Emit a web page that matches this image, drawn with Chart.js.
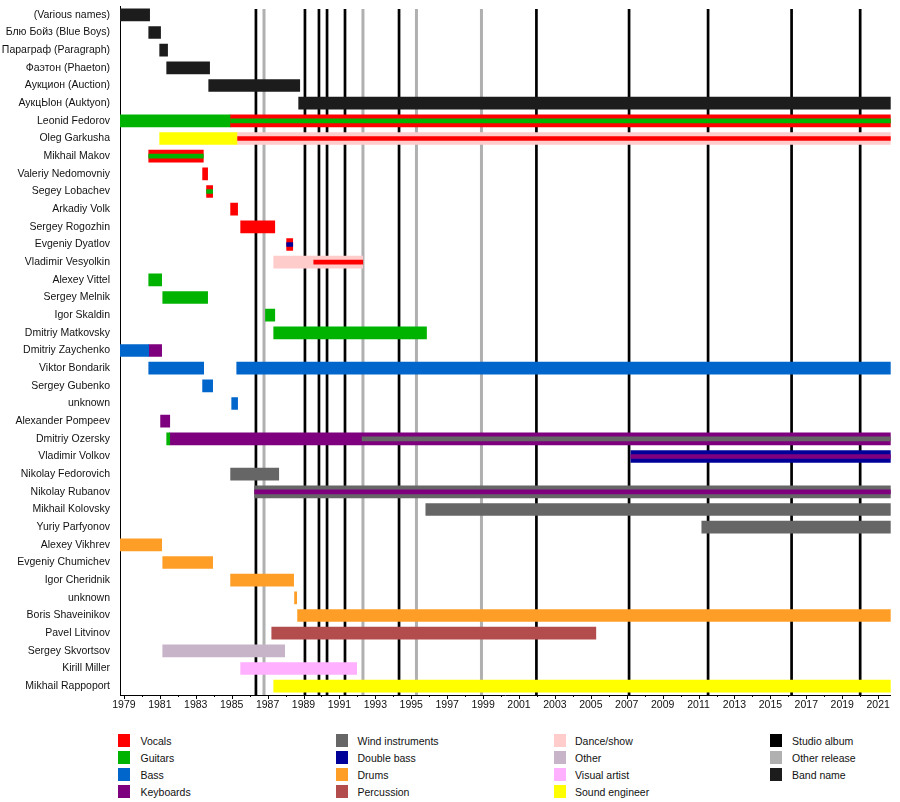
<!DOCTYPE html>
<html>
<head>
<meta charset="utf-8">
<script src="https://cdn.jsdelivr.net/npm/chart.js@4.4.1/dist/chart.umd.min.js"></script>
<style>
  html, body { margin: 0; padding: 0; background: #fff; }
  body { width: 900px; height: 802px; position: relative; overflow: hidden;
         font-family: "Liberation Sans", Arial, sans-serif; }
  #wrap { position: absolute; left: 0; top: 0; width: 900px; height: 716px; }
  .lg-sw { position: absolute; width: 12px; height: 13px; }
  .lg-tx { position: absolute; font-size: 10.5px; color: #111; line-height: 13px; white-space: nowrap; }
</style>
</head>
<body>
<div id="wrap"><canvas id="c" width="900" height="716"></canvas></div>
<div id="legend"></div>
<script>
// ---------- data ----------
const START = 1978.78;   // left edge of the timeline
const END = 2021.70;     // right edge of the timeline

const members = [
  "(Various names)", "Блю Бойз (Blue Boys)", "Параграф (Paragraph)", "Фаэтон (Phaeton)",
  "Аукцион (Auction)", "АукцЫон (Auktyon)", "Leonid Fedorov", "Oleg Garkusha",
  "Mikhail Makov", "Valeriy Nedomovniy", "Segey Lobachev", "Arkadiy Volk",
  "Sergey Rogozhin", "Evgeniy Dyatlov", "Vladimir Vesyolkin", "Alexey Vittel",
  "Sergey Melnik", "Igor Skaldin", "Dmitriy Matkovsky", "Dmitriy Zaychenko",
  "Viktor Bondarik", "Sergey Gubenko", "unknown", "Alexander Pompeev",
  "Dmitriy Ozersky", "Vladimir Volkov", "Nikolay Fedorovich", "Nikolay Rubanov",
  "Mikhail Kolovsky", "Yuriy Parfyonov", "Alexey Vikhrev", "Evgeniy Chumichev",
  "Igor Cheridnik", "unknown", "Boris Shaveinikov", "Pavel Litvinov",
  "Sergey Skvortsov", "Kirill Miller", "Mikhail Rappoport"
];

// segments: [row index in members, from, till]
const bandName = [[0, START, 1980.43], [1, 1980.38, 1981.04], [2, 1980.99, 1981.43],
                  [3, 1981.38, 1983.77], [4, 1983.72, 1988.79], [5, 1988.73, END]];
const vocals = [[6, 1984.94, END], [8, 1980.38, 1983.42], [9, 1983.38, 1983.66],
                [10, 1983.60, 1983.94], [11, 1984.94, 1985.33], [12, 1985.50, 1987.40],
                [13, 1988.06, 1988.40]];
const vocalsSecondary = [[7, 1985.33, END], [14, 1989.57, 1992.30]];
const guitars = [[6, START, 1984.94], [15, 1980.38, 1981.10], [16, 1981.16, 1983.66],
                 [17, 1986.88, 1987.40], [18, 1987.34, 1995.85], [24, 1981.38, 1981.55]];
const guitarsSecondary = [[6, 1984.94, END], [8, 1980.38, 1983.42], [10, 1983.60, 1983.94]];
const bass = [[19, START, 1980.38], [20, 1980.38, 1983.44], [20, 1985.28, END],
              [21, 1983.38, 1983.94], [22, 1985.00, 1985.33]];
const keyboards = [[19, 1980.38, 1981.10], [23, 1981.04, 1981.55], [24, 1981.55, END]];
const keyboardsSecondary = [[25, 2007.23, END], [27, 1986.28, END]];
const wind = [[26, 1984.94, 1987.62], [27, 1986.28, END], [28, 1995.81, END], [29, 2011.18, END]];
const windSecondary = [[24, 1992.26, END]];
const doubleBass = [[25, 2007.23, END]];
const doubleBassSecondary = [[13, 1988.06, 1988.40]];
const drums = [[30, START, 1981.10], [31, 1981.16, 1983.94], [32, 1984.94, 1988.45],
               [33, 1988.50, 1988.62], [34, 1988.67, END]];
const percussion = [[35, 1987.23, 2005.28]];
const danceShow = [[7, 1985.33, END], [14, 1987.34, 1992.30]];
const otherRole = [[36, 1981.16, 1987.95]];
const visualArtist = [[37, 1985.50, 1991.96]];
const soundEngineer = [[7, 1980.99, 1985.33], [38, 1987.34, END]];

const studioAlbums = [1986.35, 1989.08, 1989.86, 1990.31, 1991.31, 1994.32,
                      2001.97, 2007.13, 2011.53, 2016.18, 2020.00];
const otherReleases = [1986.80, 1992.31, 1995.29, 1998.91];

const tickYears = [];
for (let y = 1979; y <= 2021; y++) tickYears.push(y);

const legendColumns = [
  ["Vocals", "Guitars", "Bass", "Keyboards"],
  ["Wind instruments", "Double bass", "Drums", "Percussion"],
  ["Dance/show", "Other", "Visual artist", "Sound engineer"],
  ["Studio album", "Other release", "Band name"]
];

// ---------- styles ----------
const colors = {
  "Vocals": "#ff0000", "Guitars": "#00b300", "Bass": "#0066cc", "Keyboards": "#7f007f",
  "Wind instruments": "#666666", "Double bass": "#000099", "Drums": "#ff9e26",
  "Percussion": "#b34d4d", "Dance/show": "#ffcccc", "Other": "#c8b4c8",
  "Visual artist": "#ffb0ff", "Sound engineer": "#ffff00", "Studio album": "#000000",
  "Other release": "#b0b0b0", "Band name": "#1c1c1c"
};

// unique category keys (two rows share the name "unknown")
const rowKeys = members.map((m, i) => 'row' + i);

const FULL = 12, THIN = 4;
function ds(label, segs, thick) {
  return {
    label: label,
    data: segs.map(s => ({ y: rowKeys[s[0]], x: [s[1], s[2]] })),
    backgroundColor: colors[label],
    borderWidth: 0,
    borderSkipped: false,
    barThickness: thick,
    grouped: false,
    order: thick === FULL ? 2 : 1
  };
}

const datasets = [
  ds("Band name", bandName, FULL),
  ds("Vocals", vocals, FULL),
  ds("Guitars", guitars, FULL),
  ds("Bass", bass, FULL),
  ds("Keyboards", keyboards, FULL),
  ds("Wind instruments", wind, FULL),
  ds("Double bass", doubleBass, FULL),
  ds("Drums", drums, FULL),
  ds("Percussion", percussion, FULL),
  ds("Dance/show", danceShow, FULL),
  ds("Other", otherRole, FULL),
  ds("Visual artist", visualArtist, FULL),
  ds("Sound engineer", soundEngineer, FULL),
  ds("Vocals", vocalsSecondary, THIN),
  ds("Guitars", guitarsSecondary, THIN),
  ds("Keyboards", keyboardsSecondary, THIN),
  ds("Wind instruments", windSecondary, THIN),
  ds("Double bass", doubleBassSecondary, THIN)
];

const releaseLines = {
  id: 'releaseLines',
  beforeDatasetsDraw(chart) {
    const ctx = chart.ctx, xs = chart.scales.x, area = chart.chartArea;
    ctx.save();
    const draw = (vals, color, w) => {
      ctx.strokeStyle = color; ctx.lineWidth = w;
      vals.forEach(v => {
        const px = xs.getPixelForValue(v);
        ctx.beginPath(); ctx.moveTo(px, area.top + 3); ctx.lineTo(px, area.bottom); ctx.stroke();
      });
    };
    draw(otherReleases, colors["Other release"], 3);
    draw(studioAlbums, colors["Studio album"], 2.7);
    ctx.restore();
  },
  afterDraw(chart) {
    const ctx = chart.ctx, xs = chart.scales.x, area = chart.chartArea;
    ctx.save();
    ctx.strokeStyle = '#000'; ctx.lineWidth = 1;
    tickYears.forEach(yr => {
      const px = Math.round(xs.getPixelForValue(yr)) + 0.5;
      const len = (yr - 1979) % 2 === 0 ? 4 : 2;
      ctx.beginPath(); ctx.moveTo(px, area.bottom); ctx.lineTo(px, area.bottom + len); ctx.stroke();
    });
    ctx.restore();
  }
};

Chart.defaults.font.family = '"Liberation Sans", Arial, sans-serif';
Chart.defaults.color = '#111';

new Chart(document.getElementById('c'), {
  type: 'bar',
  data: { labels: rowKeys, datasets: datasets },
  options: {
    indexAxis: 'y',
    responsive: false,
    animation: false,
    layout: { padding: { top: 6, right: 9.3, left: 0, bottom: 0 } },
    plugins: { legend: { display: false }, tooltip: { enabled: false } },
    scales: {
      x: {
        type: 'linear',
        min: START, max: END,
        afterBuildTicks(scale) { scale.ticks = tickYears.map(v => ({ value: v })); },
        afterFit(scale) { scale.height = 21; scale.paddingLeft = 0; scale.paddingRight = 0; },
        ticks: {
          autoSkip: false, maxRotation: 0, padding: 4,
          font: { size: 10.5 }, color: '#111',
          callback: v => ((v - 1979) % 2 === 0 ? String(v) : '')
        },
        grid: { display: false, drawTicks: false },
        border: { display: true, color: '#000', width: 1 }
      },
      y: {
        type: 'category',
        afterFit(scale) { scale.width = 120; scale.paddingTop = 0; scale.paddingBottom = 0; },
        ticks: {
          padding: 10, font: { size: 10.5 }, color: '#111', autoSkip: false,
          callback: (v, i) => members[i]
        },
        grid: { display: false, drawTicks: false },
        border: { display: true, color: '#000', width: 1 }
      }
    }
  },
  plugins: [releaseLines]
});

// ---------- legend ----------
const colSwatchX = [118, 335.5, 553.5, 770];
const colTextX = [140.5, 357.5, 575, 792];
const rowTop = [734, 750.5, 767.5, 784.5];
const lg = document.getElementById('legend');
legendColumns.forEach((col, ci) => {
  col.forEach((name, ri) => {
    const sw = document.createElement('div');
    sw.className = 'lg-sw';
    sw.style.left = colSwatchX[ci] + 'px';
    sw.style.top = rowTop[ri] + 'px';
    sw.style.background = colors[name];
    lg.appendChild(sw);
    const tx = document.createElement('div');
    tx.className = 'lg-tx';
    tx.style.left = colTextX[ci] + 'px';
    tx.style.top = (rowTop[ri] + 1) + 'px';
    tx.textContent = name;
    lg.appendChild(tx);
  });
});
</script>
</body>
</html>
